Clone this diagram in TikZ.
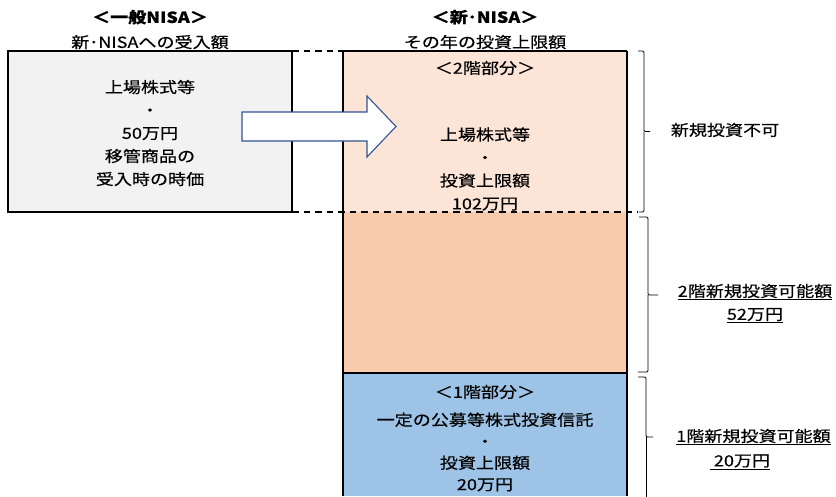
\documentclass[tikz,border=0pt]{standalone}
\usepackage{fontspec}
\setmainfont[FakeStretch=1.18,FakeBold=0.4]{Noto Sans CJK JP}
\definecolor{grayfill}{HTML}{F2F2F2}
\definecolor{peachA}{HTML}{FCE4D6}
\definecolor{peachB}{HTML}{F8CBAD}
\definecolor{blueC}{HTML}{9DC3E6}
\definecolor{arrowblue}{HTML}{2F5597}
\begin{document}
\begin{tikzpicture}[x=1pt,y=-1pt,
  txt/.style={font=\fontsize{15.3}{23}\selectfont, align=center, inner sep=0pt},
  region/.style={inner sep=0pt, outer sep=0pt, anchor=north west, minimum width=284pt},
  box/.style={line width=1.3pt},
  dashline/.style={line width=1.3pt, dash pattern=on 6.5pt off 5pt},
  bracepath/.style={line width=0.8pt, rounded corners=1.2pt}]
\useasboundingbox (0,0) rectangle (836,496);
\fill[white] (0,0) rectangle (836,496);
% left box
\node[region, fill=grayfill, draw, box, minimum height=161pt] (old) at (8,51) {};
% right column regions
\node[region, fill=peachA, minimum height=161pt] (r1) at (343,51) {};
\node[region, fill=peachB, minimum height=161pt] (r2) at (343,212) {};
\node[region, fill=blueC, minimum height=123pt] (r3) at (343,373) {};
\draw[box] (r1.north west) -- (r1.north east);
\draw[box] (r1.north west) -- (r3.south west);
\draw[box] (r1.north east) -- (r3.south east);
\draw[box] (r2.south west) -- (r2.south east);
\coordinate (dashend) at (638,212);
\draw[dashline] (old.north east) -- (r1.north west);
\draw[dashline] (old.south east) -- (dashend);
% block arrow
\draw[line width=1.1pt, draw=arrowblue, fill=white, line join=miter]
  (242,112) -- (367,112) -- (367,96) -- (396,126.5) -- (367,157) -- (367,141) -- (242,141) -- cycle;
% braces
\draw[bracepath] (638,51) -| (644,131.5) -- (650,131.5);
\draw[bracepath] (644,131.5) |- (639,212);
\draw[bracepath] (639,217) -| (648,295) -- (658,295);
\draw[bracepath] (648,295) |- (638,372);
\draw[bracepath] (638,377) -| (646,437) -- (653,437);
\draw[bracepath] (646,437) -- (646,497);
% texts
\node[txt] (h1) at (150,29.5) {\textbf{＜一般NISA＞}\\[2pt]新･NISAへの受入額};
\node[txt] (h2) at (485,29.5) {\textbf{＜新･NISA＞}\\[2pt]その年の投資上限額};
\node[txt] (t1) at (150,133) {上場株式等\\・\\50万円\\移管商品の\\受入時の時価};
\node[txt] (t2a) at (485,68) {＜2階部分＞};
\node[txt] (t2b) at (485,169) {上場株式等\\・\\投資上限額\\102万円};
\node[txt] (t3a) at (485,392) {＜1階部分＞};
\node[txt, font=\fontsize{15.3}{21.5}\selectfont] (t3b) at (485,452) {一定の公募等株式投資信託\\・\\投資上限額\\20万円};
\node[txt] (l1) at (725,130) {新規投資不可};
\node[txt] (l2) at (755,303.5) {\underline{2階新規投資可能額}\\\underline{52万円}};
\node[txt] (l3a) at (753.5,437) {\underline{1階新規投資可能額}};
\node[txt] (l3b) at (740,462) {\underline{\ 20万円}};
\end{tikzpicture}
\end{document}
